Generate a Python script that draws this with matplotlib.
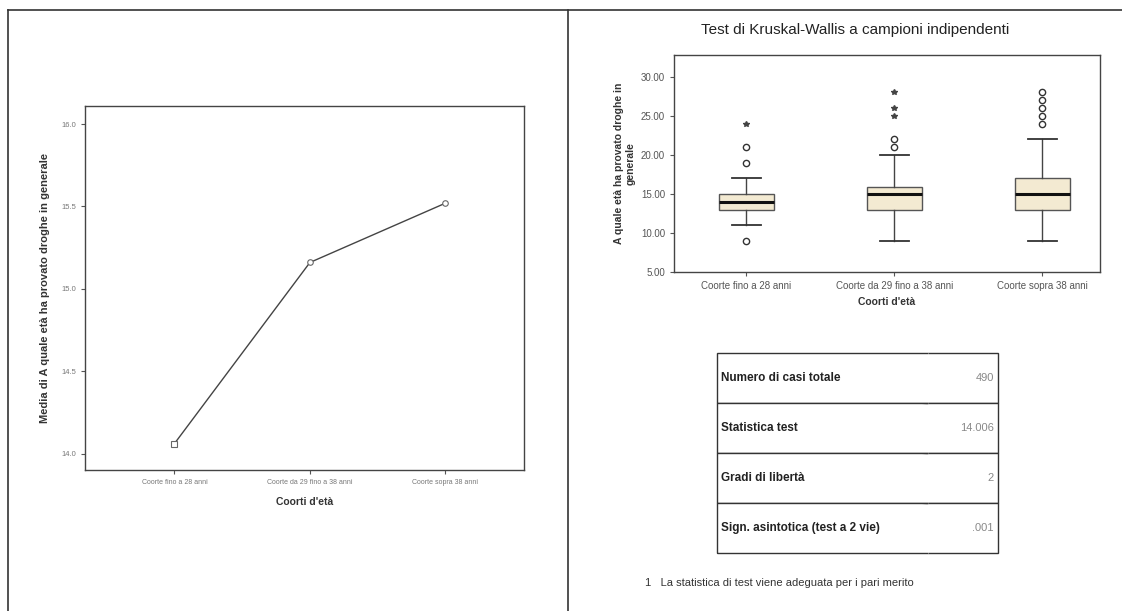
import matplotlib.pyplot as plt
from matplotlib.lines import Line2D

plt.rcParams['font.family'] = ['Liberation Sans', 'DejaVu Sans']

#=============== DATI =============#
coorti = ['Coorte fino a 28 anni', 'Coorte da 29 fino a 38 anni', 'Coorte sopra 38 anni']
medie = [14.06, 15.16, 15.52]
marker_medie = ['s', 'o', 'o']
yticks_medie = [14.0, 14.5, 15.0, 15.5, 16.0]

q1 = [13, 13, 13]
mediane = [14, 15, 15]
q3 = [15, 15.9, 17]
baffo_basso = [11, 9, 9]
baffo_alto = [17, 20, 22]
outlier_cerchi = [[9, 19, 21], [21, 22], [24, 25, 26, 27, 28]]
outlier_estremi = [[24], [25, 26, 28], []]
yticks_box = [5, 10, 15, 20, 25, 30]

righe_tabella = ['Numero di casi totale', 'Statistica test', 'Gradi di libertà',
                 'Sign. asintotica (test a 2 vie)']
valori_tabella = ['490', '14.006', '2', '.001']
nota = '1   La statistica di test viene adeguata per i pari merito'
#=============== FINE DATI =============#

W, H = 1122, 611
fig = plt.figure(figsize=(W / 100, H / 100), dpi=100)
fig.patch.set_facecolor('white')


def box_px(left, top, right, bottom):
    return [left / W, 1 - bottom / H, (right - left) / W, (bottom - top) / H]


# cornici della pagina
fig.add_artist(Line2D([8 / W, 1], [1 - 10 / H, 1 - 10 / H], color='#333333', lw=1.2))
fig.add_artist(Line2D([8 / W, 8 / W], [0, 1 - 10 / H], color='#333333', lw=1.2))
fig.add_artist(Line2D([568 / W, 568 / W], [0, 1 - 10 / H], color='#333333', lw=1.2))

# ---- grafico a linee ----
ax1 = fig.add_axes(box_px(85, 106, 524, 470))
xs = list(range(len(coorti)))
ax1.plot(xs, medie, color='#444444', lw=1.0)
for x, y, m in zip(xs, medie, marker_medie):
    ax1.plot(x, y, marker=m, ms=4, mfc='white', mec='#666666', mew=0.8)
ax1.set_xlim(-0.66, 2.58)
ax1.set_ylim(13.90, 16.11)
ax1.set_xticks(xs)
ax1.set_xticklabels(coorti, fontsize=5, color='#777777')
ax1.set_yticks(yticks_medie)
ax1.set_yticklabels([f'{v:.1f}' for v in yticks_medie], fontsize=5.5, color='#777777')
ax1.tick_params(length=3, width=0.8, colors='#555555', labelcolor='#777777')
for s in ax1.spines.values():
    s.set_color('#444444')
    s.set_linewidth(1.0)
ax1.set_xlabel("Coorti d'età", fontsize=7.5, fontweight='bold', color='#333333', labelpad=8)
ax1.set_ylabel('Media di A quale età ha provato droghe in generale', fontsize=8,
               fontweight='bold', color='#333333', labelpad=8)

# ---- boxplot ----
fig.text(855 / W, 1 - 30 / H, 'Test di Kruskal-Wallis a campioni indipendenti',
         ha='center', va='center', fontsize=11, color='#222222')
ax2 = fig.add_axes(box_px(674, 55, 1100, 272))
stats = []
for i in range(len(coorti)):
    stats.append(dict(q1=q1[i], med=mediane[i], q3=q3[i], whislo=baffo_basso[i],
                      whishi=baffo_alto[i], fliers=outlier_cerchi[i], label=coorti[i]))
pos = [1, 2, 3]
ax2.bxp(stats, positions=pos, widths=0.37, patch_artist=True,
        boxprops=dict(facecolor='#f3ead2', edgecolor='#555555', lw=1.0),
        medianprops=dict(color='#111111', lw=2.2),
        whiskerprops=dict(color='#444444', lw=1.0),
        capprops=dict(color='#333333', lw=1.3),
        flierprops=dict(marker='o', ms=4.5, mfc='none', mec='#333333', mew=1.0),
        capwidths=0.2)
for p, vals in zip(pos, outlier_estremi):
    if vals:
        ax2.plot([p] * len(vals), vals, ls='none', marker='*', ms=4, color='#444444')
ax2.set_xlim(0.51, 3.39)
ax2.set_ylim(5, 32.8)
ax2.set_yticks(yticks_box)
ax2.set_yticklabels([f'{v:.2f}' for v in yticks_box], fontsize=7, color='#555555')
ax2.set_xticklabels(coorti, fontsize=7, color='#555555')
ax2.tick_params(length=3, width=0.8, colors='#555555', labelcolor='#555555')
for s in ax2.spines.values():
    s.set_color('#444444')
    s.set_linewidth(1.0)
ax2.set_xlabel("Coorti d'età", fontsize=7.5, fontweight='bold', color='#333333', labelpad=4)
ax2.set_ylabel('A quale età ha provato droghe in\ngenerale', fontsize=7.5,
               fontweight='bold', color='#333333', labelpad=4)

# ---- tabella ----
ax3 = fig.add_axes(box_px(717, 353, 998, 553))
ax3.axis('off')
tab = ax3.table(cellText=[[r, v] for r, v in zip(righe_tabella, valori_tabella)],
                colWidths=[0.75, 0.25], bbox=[0, 0, 1, 1])
tab.auto_set_font_size(False)
for (r, c), cell in tab.get_celld().items():
    cell.set_edgecolor('#333333')
    cell.set_linewidth(1.0)
    txt = cell.get_text()
    if c == 0:
        cell.visible_edges = 'LTB'
        txt.set_fontweight('bold')
        txt.set_fontsize(8.5)
        txt.set_color('#222222')
        cell._loc = 'left'
        txt.set_ha('left')
        cell.PAD = 0.02
    else:
        cell.visible_edges = 'RTB'
        txt.set_fontsize(8)
        txt.set_color('#888888')
        cell._loc = 'right'
        txt.set_ha('right')
        cell.PAD = 0.06

fig.text(645 / W, 1 - 583 / H, nota, ha='left', va='center', fontsize=8, color='#333333')

fig.savefig('out.png', dpi=100, facecolor='white')
